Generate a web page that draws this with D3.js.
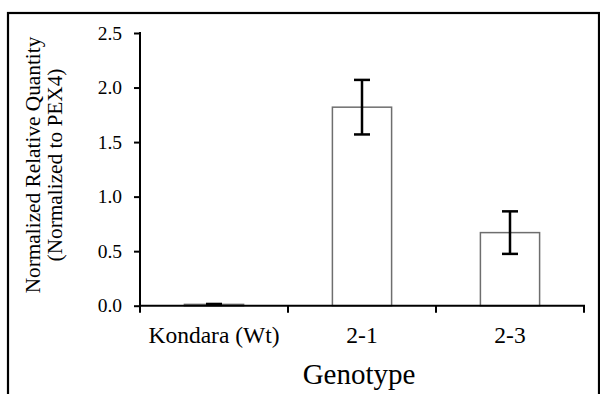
<!DOCTYPE html>
<html><head><meta charset="utf-8">
<script src="https://cdn.jsdelivr.net/npm/d3@7"></script>
<style>body{margin:0;background:#fff}svg{display:block}</style>
</head><body>
<script>
const categories = ["Kondara (Wt)", "2-1", "2-3"];
const values = [0.012, 1.82, 0.67];
const errors = [0.004, 0.25, 0.195];
const yTicks = [0, 0.5, 1.0, 1.5, 2.0, 2.5];

const W = 600, H = 394;
const svg = d3.select("body").append("svg").attr("width", W).attr("height", H);
const font = "Liberation Serif, Times New Roman, serif";

svg.append("rect").attr("x", 8).attr("y", 13).attr("width", 591).attr("height", 420)
  .attr("fill", "none").attr("stroke", "#000").attr("stroke-width", 2.2);

const x0 = 140, x1 = 584, yTop = 33, yBot = 305.7;
const x = d3.scaleBand().domain(categories).range([x0, x1]).paddingInner(0).paddingOuter(0);
const y = d3.scaleLinear().domain([0, 2.5]).range([yBot, yTop]);

const bw = x.bandwidth() * 0.4;
const g = svg.append("g");
g.selectAll("rect.bar").data(categories).join("rect").attr("class", "bar")
  .attr("x", d => x(d) + x.bandwidth() / 2 - bw / 2)
  .attr("y", (d, i) => y(values[i]))
  .attr("width", bw)
  .attr("height", (d, i) => yBot - y(values[i]))
  .attr("fill", "#fff").attr("stroke", "#6e6e6e").attr("stroke-width", 1.5);

const cap = 8;
categories.forEach((c, i) => {
  const cx = x(c) + x.bandwidth() / 2;
  const t = y(values[i] + errors[i]), b = y(values[i] - errors[i]);
  g.append("line").attr("x1", cx).attr("x2", cx).attr("y1", t).attr("y2", b)
    .attr("stroke", "#000").attr("stroke-width", 2.5);
  [t, b].forEach(v => g.append("line").attr("x1", cx - cap).attr("x2", cx + cap)
    .attr("y1", v).attr("y2", v).attr("stroke", "#000").attr("stroke-width", 2.5));
});

// y axis
const ya = svg.append("g").attr("transform", `translate(${x0},0)`)
  .call(d3.axisLeft(y).tickValues(yTicks).tickFormat(d3.format(".1f")).tickSize(6).tickSizeOuter(0));
ya.attr("font-family", font).attr("font-size", 19.5);
ya.select(".domain").attr("stroke-width", 2).attr("d", `M0,${yTop - 1}V${yBot}`);
ya.selectAll(".tick line").attr("stroke-width", 2);
ya.selectAll(".tick text").attr("fill", "#000").attr("x", -18).attr("dy", "0.32em");

// x axis
const xa = svg.append("g").attr("transform", `translate(0,${yBot})`);
xa.append("line").attr("x1", x0 - 1).attr("x2", x1 + 1).attr("y1", 0).attr("y2", 0).attr("stroke", "#000").attr("stroke-width", 2);
const bounds = [x0].concat(categories.map(c => x(c) + x.bandwidth()));
xa.selectAll("line.t").data(bounds).join("line").attr("class", "t")
  .attr("x1", d => d).attr("x2", d => d).attr("y1", 0).attr("y2", 7).attr("stroke", "#000").attr("stroke-width", 2);
xa.selectAll("text").data(categories).join("text")
  .attr("x", d => x(d) + x.bandwidth() / 2).attr("y", 37)
  .attr("text-anchor", "middle").attr("font-family", font).attr("font-size", 23.5).attr("fill", "#000")
  .text(d => d);

svg.append("text").attr("x", 359).attr("y", 383.5).attr("text-anchor", "middle")
  .attr("font-family", font).attr("font-size", 29).attr("fill", "#000").text("Genotype");

const yt = svg.append("text")
  .attr("font-family", font).attr("font-size", 21.3).attr("fill", "#000").attr("text-anchor", "middle")
  .attr("transform", "rotate(-90)");
yt.append("tspan").attr("x", -165).attr("y", 40).text("Normalized Relative Quantity");
yt.append("tspan").attr("x", -165).attr("y", 62).text("(Normalized to PEX4)");
</script>
</body></html>
